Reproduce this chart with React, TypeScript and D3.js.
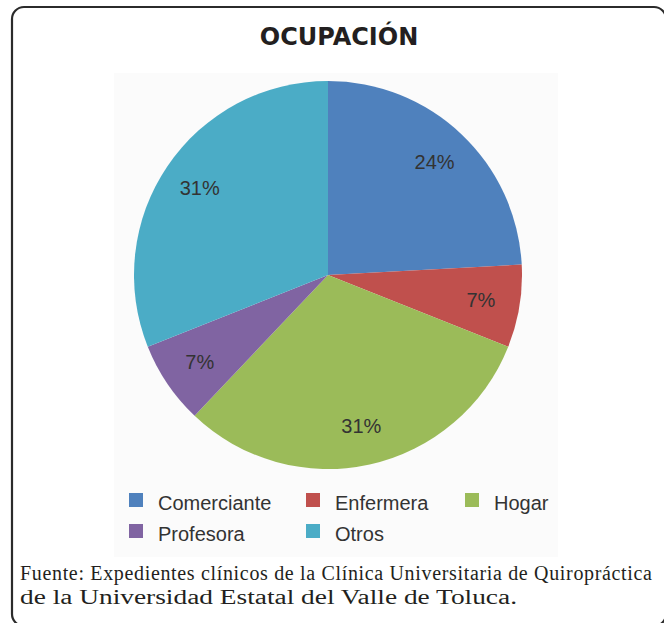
import React from "react";
import * as d3 from "d3";

const categories = ["Comerciante", "Enfermera", "Hogar", "Profesora", "Otros"];
const counts = [7, 2, 9, 2, 9];
const colors = ["#4F81BD", "#C0504D", "#9BBB59", "#8064A2", "#4BACC6"];
const title = "OCUPACIÓN";
const sourceLines = [
  "Fuente: Expedientes clínicos de la Clínica Universitaria de Quiropráctica",
  "de la Universidad Estatal del Valle de Toluca.",
];

const W = 664;
const H = 623;
const cx = 328;
const cy = 275;
const R = 194;
const labelR = 155;

export default function App() {
  const total = d3.sum(counts);
  const pie = d3
    .pie<number>()
    .sort(null)
    .startAngle(0)
    .endAngle(2 * Math.PI)
    .value((d) => d);
  const arcs = pie(counts);
  const arc = d3.arc<d3.PieArcDatum<number>>().innerRadius(0).outerRadius(R);
  const labelArc = d3
    .arc<d3.PieArcDatum<number>>()
    .innerRadius(labelR)
    .outerRadius(labelR);
  const fmt = d3.format(".0%");

  const legendCols = [129, 306, 465];
  const legendRows = [493, 524];

  return (
    <div style={{ position: "absolute", left: 0, top: 0, width: W, height: H, overflow: "hidden" }}>
      <svg width={W} height={H} style={{ display: "block" }}>
        <rect x={0} y={0} width={W} height={H} fill="#ffffff" />
        <rect x={12} y={7} width={654} height={619} rx={12} ry={12} fill="none" stroke="#2b2b2b" strokeWidth={2.2} />
        <rect x={114} y={73} width={444} height={484} fill="#fbfbfb" />
        <text
          x={339}
          y={45}
          textAnchor="middle"
          fontFamily="'DejaVu Sans', sans-serif"
          fontWeight="bold"
          fontSize={24}
          fill="#231f20"
        >
          {title}
        </text>
        <g transform={`translate(${cx},${cy})`}>
          {arcs.map((a, i) => (
            <path key={categories[i]} d={arc(a) || ""} fill={colors[i]} />
          ))}
          {arcs.map((a, i) => {
            const [x, y] = labelArc.centroid(a);
            return (
              <text
                key={"l" + i}
                x={x}
                y={y}
                dy="0.35em"
                textAnchor="middle"
                fontFamily="'Liberation Sans', Arial, sans-serif"
                fontSize={20}
                fill="#333333"
              >
                {fmt(counts[i] / total)}
              </text>
            );
          })}
        </g>
        <g fontFamily="'Liberation Sans', Arial, sans-serif" fontSize={20} fill="#333333">
          {categories.map((c, i) => {
            const col = i % 3;
            const row = Math.floor(i / 3);
            const x = legendCols[col];
            const y = legendRows[row];
            return (
              <g key={"lg" + c}>
                <rect x={x} y={y} width={14} height={14} fill={colors[i]} />
                <text x={x + 29} y={y + 17}>
                  {c}
                </text>
              </g>
            );
          })}
        </g>
        <g fontFamily="'Liberation Serif', 'Times New Roman', serif" fontSize={20} fill="#231f20">
          <text x={20} y={580} textLength={632} lengthAdjust="spacing">
            {sourceLines[0]}
          </text>
          <text x={20} y={604} textLength={497} lengthAdjust="spacingAndGlyphs">
            {sourceLines[1]}
          </text>
        </g>
      </svg>
    </div>
  );
}
